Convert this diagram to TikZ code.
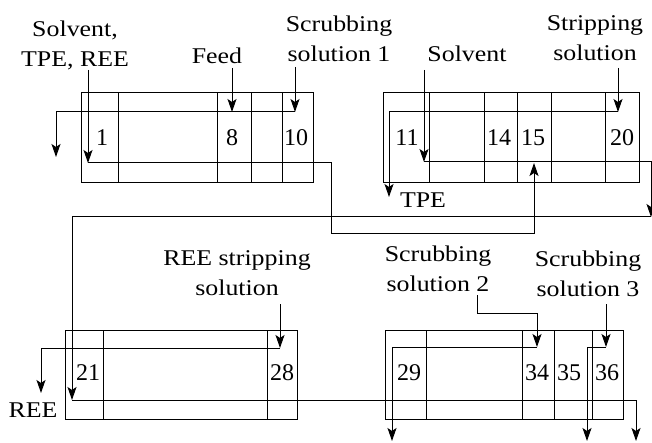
\documentclass[tikz,border=0pt]{standalone}
\usepackage{fontspec}
\setmainfont{Liberation Serif}
\newfontfamily\labfont[FakeStretch=1.15]{Liberation Serif}
\usetikzlibrary{arrows.meta}
\begin{document}
\begin{tikzpicture}[x=1pt,y=-1pt,line width=1pt,
  arr/.style={-{Stealth[length=13pt,width=9pt,inset=3pt]}},
  lab/.style={font=\labfont\fontsize{22.5}{30}\selectfont,inner sep=0pt,align=center},
  num/.style={font=\fontsize{24}{28}\selectfont,inner sep=0pt,anchor=base},
  blockbox/.style={draw}]
\useasboundingbox (0,0) rectangle (652,443);
% blocks
\draw[blockbox] (81,93) rectangle (313,183);
\foreach \x in {118,217,251,282} \draw (\x,93) -- (\x,183);
\draw[blockbox] (383,93) rectangle (639,183);
\foreach \x in {429,484,517,551,605} \draw (\x,93) -- (\x,183);
\draw[blockbox] (65,330) rectangle (297,419);
\foreach \x in {103,267} \draw (\x,330) -- (\x,419);
\draw[blockbox] (385,330) rectangle (623,419);
\foreach \x in {426,522,554,592} \draw (\x,330) -- (\x,419);
% stage numbers
\node[num] (n1) at (102,146) {1};
\node[num] (n8) at (232,146) {8};
\node[num] (n10) at (296,146) {10};
\node[num] (n11) at (407,146) {11};
\node[num] (n14) at (499,146) {14};
\node[num] (n15) at (533,146) {15};
\node[num] (n20) at (622,146) {20};
\node[num] (n21) at (88,380) {21};
\node[num] (n28) at (282,380) {28};
\node[num] (n29) at (409,380) {29};
\node[num] (n34) at (537,380) {34};
\node[num] (n35) at (569,380) {35};
\node[num] (n36) at (607,380) {36};
% labels
\node[lab,anchor=north] (lsolv1) at (75,20) {Solvent,\\TPE, REE};
\node[lab,anchor=base] (lfeed) at (217,64) {Feed};
\node[lab,anchor=north] (lscr1) at (339,15) {Scrubbing\\solution 1};
\node[lab,anchor=base] (lsolv2) at (467,62) {Solvent};
\node[lab,anchor=north] (lstrip) at (595,15) {Stripping\\solution};
\node[lab,anchor=base] (ltpe) at (423,208) {TPE};
\node[lab,anchor=north] (lrees) at (237,250) {REE stripping\\solution};
\node[lab,anchor=base] (lree) at (33,417) {REE};
\node[lab,anchor=north] (lscr2) at (438,245) {Scrubbing\\solution 2};
\node[lab,anchor=north] (lscr3) at (588,250) {Scrubbing\\solution 3};
% coordinates
\coordinate (s1) at (88,70);   \coordinate (o1) at (88,163);
\coordinate (in15) at (534,163);
\coordinate (fd) at (232,68);  \coordinate (a8) at (232,112);
\coordinate (sc1) at (295,67); \coordinate (a10) at (295,112);
\coordinate (raf1) at (56,157);
\coordinate (sv2) at (424,70); \coordinate (o2) at (424,162);
\coordinate (e2) at (651,217);
\coordinate (st) at (618,68);  \coordinate (a20) at (618,112);
\coordinate (tpe) at (389,197);
\coordinate (in21) at (72,400);
\coordinate (out4) at (636,441);
\coordinate (rs) at (280,304); \coordinate (a28) at (280,348);
\coordinate (ree) at (41,393);
\coordinate (sc2) at (477,295); \coordinate (a34) at (537,347);
\coordinate (o29) at (392,441);
\coordinate (sc3) at (606,304); \coordinate (a36) at (606,347);
\coordinate (o36) at (587,441);
% block 1 flows
\draw[arr] (s1) -- (o1);
\draw[arr] (fd) -- (a8);
\draw[arr] (sc1) -- (a10);
\draw[arr] (a10) -| (raf1);
\draw[arr] (o1) -- (331,163) -- (331,234) -| (in15);
% block 2 flows
\draw[arr] (sv2) -- (o2);
\draw[arr] (o2) -| (e2);
\draw[arr] (st) -- (a20);
\draw[arr] (a20) -| (tpe);
% to block 3
\draw[arr] (e2) -| (in21);
\draw[arr] (in21) -| (out4);
\draw[arr] (rs) -- (a28);
\draw[arr] (a28) -| (ree);
% block 4
\draw[arr] (sc2) |- (537,313) -- (a34);
\draw[arr] (a34) -| (o29);
\draw[arr] (sc3) -- (a36);
\draw[arr] (a36) -| (o36);
\end{tikzpicture}
\end{document}
